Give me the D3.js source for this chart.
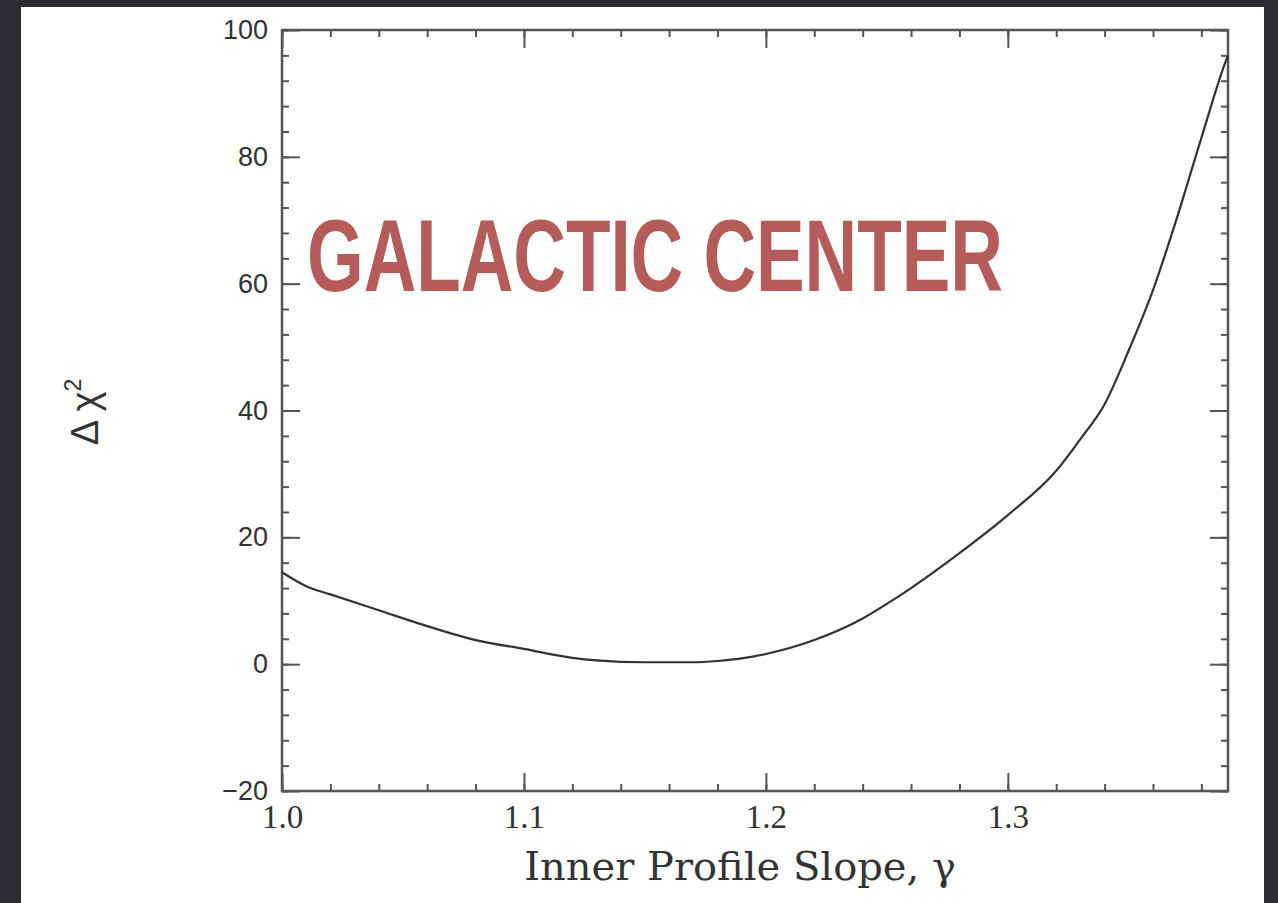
<!DOCTYPE html>
<html>
<head>
<meta charset="utf-8">
<script src="https://cdn.jsdelivr.net/npm/d3@7"></script>
<style>
  html, body { margin: 0; padding: 0; background: #2c2c32; }
  svg { display: block; }
</style>
</head>
<body>
<svg id="chart"></svg>
<script>
let width = 1278;
let height = 903;
let margin = ({top: 30, right: 50, bottom: 112, left: 282});

// curve
const gamma = [1.00, 1.01, 1.02, 1.04, 1.06, 1.08, 1.10, 1.12, 1.13, 1.15, 1.17, 1.18, 1.19, 1.20,
               1.22, 1.24, 1.25, 1.26, 1.28, 1.30, 1.32, 1.33, 1.34, 1.35, 1.36, 1.37, 1.38, 1.39, 1.391];
const dchi2 = [14.5, 12.3, 11.0, 8.5, 6.0, 3.8, 2.4, 1.0, 0.6, 0.3, 0.3, 0.5, 0.9, 1.6,
               3.8, 7.2, 9.5, 12.0, 17.5, 23.5, 30.5, 35.5, 41.0, 49.5, 59.0, 70.5, 83.0, 95.0, 96.0];

const xMajor = [1.0, 1.1, 1.2, 1.3];
const xMajorLabels = ["1.0", "1.1", "1.2", "1.3"];
const yMajor = [-20, 0, 20, 40, 60, 80, 100];
const yMajorLabels = ["\u221220", "0", "20", "40", "60", "80", "100"];

const data = gamma.map((g, i) => ({g, v: dchi2[i]}));

const svg = d3.select("#chart")
    .attr("width", width)
    .attr("height", height)
    .attr("viewBox", [0, 0, width, height]);

svg.append("rect")
    .attr("width", width).attr("height", height)
    .attr("fill", "#2c2c32");

svg.append("rect")
    .attr("x", 21).attr("y", 7)
    .attr("width", 1243).attr("height", height - 7)
    .attr("fill", "#ffffff");

let x = d3.scaleLinear()
    .domain([1.0, 1.391])
    .range([margin.left, width - margin.right]);

let y = d3.scaleLinear()
    .domain([-20, 100])
    .range([height - margin.bottom, margin.top]);

let xMinor = d3.range(0, 20).map(i => 1.0 + i * 0.02).filter(v => v <= 1.391);
let yMinor = d3.range(-20, 101, 4);

let tickStyle = g => {
    g.select(".domain").remove();
    g.selectAll(".tick line").attr("stroke", "#555").attr("stroke-width", 2);
};

// bottom + top
svg.append("g")
    .attr("transform", `translate(0,${height - margin.bottom})`)
    .call(d3.axisBottom(x).tickValues(xMinor).tickFormat("").tickSize(-7).tickSizeOuter(0))
    .call(tickStyle);
svg.append("g")
    .attr("transform", `translate(0,${height - margin.bottom})`)
    .call(d3.axisBottom(x).tickValues(xMajor).tickFormat((d, i) => xMajorLabels[i]).tickSize(-18).tickPadding(14))
    .call(tickStyle)
    .call(g => g.selectAll(".tick text")
        .attr("font-family", "'Liberation Serif', serif")
        .attr("font-size", 33)
        .attr("fill", "#333"));
svg.append("g")
    .attr("transform", `translate(0,${margin.top})`)
    .call(d3.axisTop(x).tickValues(xMinor).tickFormat("").tickSize(-7))
    .call(tickStyle);
svg.append("g")
    .attr("transform", `translate(0,${margin.top})`)
    .call(d3.axisTop(x).tickValues(xMajor).tickFormat("").tickSize(-18))
    .call(tickStyle);

// left + right
svg.append("g")
    .attr("transform", `translate(${margin.left},0)`)
    .call(d3.axisLeft(y).tickValues(yMinor).tickFormat("").tickSize(-7))
    .call(tickStyle);
svg.append("g")
    .attr("transform", `translate(${margin.left},0)`)
    .call(d3.axisLeft(y).tickValues(yMajor).tickFormat((d, i) => yMajorLabels[i]).tickSize(-18).tickPadding(14))
    .call(tickStyle)
    .call(g => g.selectAll(".tick text")
        .attr("font-family", "'Liberation Sans', Arial, sans-serif")
        .attr("font-size", 27)
        .attr("fill", "#333"));
svg.append("g")
    .attr("transform", `translate(${width - margin.right},0)`)
    .call(d3.axisRight(y).tickValues(yMinor).tickFormat("").tickSize(-7))
    .call(tickStyle);
svg.append("g")
    .attr("transform", `translate(${width - margin.right},0)`)
    .call(d3.axisRight(y).tickValues(yMajor).tickFormat("").tickSize(-18))
    .call(tickStyle);

// frame
svg.append("rect")
    .attr("x", margin.left).attr("y", margin.top)
    .attr("width", width - margin.right - margin.left)
    .attr("height", height - margin.bottom - margin.top)
    .attr("fill", "none")
    .attr("stroke", "#555")
    .attr("stroke-width", 2.5);

svg.append("path")
    .datum(data)
    .attr("fill", "none")
    .attr("stroke", "#333")
    .attr("stroke-width", 2.2)
    .attr("d", d3.line().x(d => x(d.g)).y(d => y(d.v)).curve(d3.curveMonotoneX));

// axis titles
svg.append("text")
    .attr("x", 740)
    .attr("y", 880)
    .attr("text-anchor", "middle")
    .attr("font-family", "'DejaVu Serif', serif")
    .attr("font-size", 40)
    .attr("fill", "#333")
    .text("Inner Profile Slope, \u03b3");

let ylab = svg.append("text")
    .attr("transform", "translate(98,412) rotate(-90)")
    .attr("text-anchor", "middle")
    .attr("font-family", "'Liberation Sans', Arial, sans-serif")
    .attr("font-size", 38)
    .attr("fill", "#333");
ylab.append("tspan").text("\u0394 \u03c7");
ylab.append("tspan").attr("dy", -17).attr("font-size", 23).text("2");

// condensed overlay title: squeeze a bold sans horizontally to the width in the picture
let title = svg.append("text")
    .attr("font-family", "'Liberation Sans', Arial, sans-serif")
    .attr("font-weight", "bold")
    .attr("font-size", 102)
    .attr("fill", "#b55b59")
    .text("GALACTIC CENTER");
let natural = title.node().getComputedTextLength();
title.attr("transform", `translate(307,291) scale(${696 / natural},1)`);
</script>
</body>
</html>
